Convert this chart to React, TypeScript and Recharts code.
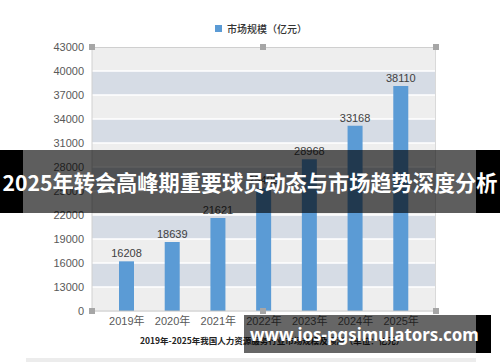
import { BarChart, Bar, XAxis, YAxis, CartesianGrid, LabelList, Legend } from "recharts";

const years = ["2019年", "2020年", "2021年", "2022年", "2023年", "2024年", "2025年"];
const marketSize = [16208, 18639, 21621, 25400, 28968, 33168, 38110];
const yTickLabels = [0, 13000, 16000, 19000, 22000, 25000, 28000, 31000, 34000, 37000, 40000, 43000];
const seriesName = "市场规模（亿元）";
const title = "2025年转会高峰期重要球员动态与市场趋势深度分析";
const caption = "2019年-2025年我国人力资源服务行业市场规模及预测（单位：亿元）";
const watermark = "www.ios-pgsimulators.com";

// broken axis: 0..13000 squeezed into one step, then 3000 per step
const toAxis = (v: number) => (v <= 13000 ? v / 13000 : 1 + (v - 13000) / 3000);

const data = years.map((year, i) => ({
  year,
  value: marketSize[i],
  pos: toAxis(marketSize[i]),
}));
const yTicks = yTickLabels.map(toAxis);

const FONT = "'Liberation Sans', 'Noto Sans CJK SC', sans-serif";
const CJK = "'Noto Sans CJK SC', sans-serif";

const handle = (left: number, top: number) => (
  <div
    key={`${left}-${top}`}
    style={{
      position: "absolute",
      left: left - 3,
      top: top - 3,
      width: 6,
      height: 6,
      background: "#a6a6a6",
    }}
  />
);

export default function App() {
  return (
    <div
      style={{
        position: "absolute",
        left: 0,
        top: 0,
        width: 500,
        height: 362,
        background: "#fff",
        overflow: "hidden",
        fontFamily: FONT,
      }}
    >
      <BarChart
        width={500}
        height={362}
        data={data}
        margin={{ top: 47, right: 64, bottom: 21, left: 0 }}
      >
        <CartesianGrid
          vertical={false}
          stroke="#ffffff"
          strokeWidth={1.5}
          horizontalFill={["#eeeeee", "#d6dce5"]}
          fillOpacity={1}
        />
        <Legend
          verticalAlign="top"
          wrapperStyle={{ top: 21, left: 0, width: 500, height: 0 }}
          content={() => (
            <div style={{ height: 0, overflow: "visible" }}>
              <div
                style={{
                  display: "flex",
                  alignItems: "center",
                  marginLeft: 215,
                  fontFamily: CJK,
                  fontSize: 10,
                  fontWeight: 500,
                  color: "#333",
                }}
              >
                <span
                  style={{
                    display: "inline-block",
                    width: 7,
                    height: 7,
                    background: "#5b9bd5",
                    marginRight: 5,
                  }}
                />
                {seriesName}
              </div>
            </div>
          )}
        />
        <XAxis
          dataKey="year"
          interval={0}
          padding={{ left: 12, right: 12 }}
          tickLine={false}
          tickSize={6}
          tickMargin={0}
          height={30}
          axisLine={{ stroke: "#bfbfbf" }}
          tick={{ fontSize: 11, fill: "#595959", fontFamily: FONT }}
        />
        <YAxis
          width={92}
          domain={[0, 11]}
          ticks={yTicks}
          interval={0}
          tickFormatter={(v: number) => String(yTickLabels[yTicks.indexOf(v)])}
          tickLine={false}
          axisLine={{ stroke: "#d0d0d0" }}
          tick={{ fontSize: 11, fill: "#595959", fontFamily: FONT }}
        />
        <Bar dataKey="pos" fill="#5b9bd5" barSize={15} isAnimationActive={false}>
          <LabelList
            dataKey="value"
            position="top"
            offset={4}
            fill="#404040"
            fontSize={11}
            fontFamily={FONT}
          />
        </Bar>
      </BarChart>

      {/* plot frame and selection handles */}
      <div
        style={{
          position: "absolute",
          left: 92,
          top: 47,
          width: 344,
          height: 264,
          borderTop: "1px solid #cfcfcf",
          borderRight: "1px solid #d9d9d9",
          boxSizing: "border-box",
          pointerEvents: "none",
        }}
      />
      {[handle(92, 47), handle(263, 47), handle(436, 47), handle(92, 311), handle(263, 311), handle(436, 311)]}

      <div
        style={{
          position: "absolute",
          left: 140,
          top: 334,
          fontFamily: CJK,
          fontSize: 8.5,
          fontWeight: 700,
          color: "#222",
          whiteSpace: "nowrap",
        }}
      >
        {caption}
      </div>
      <div
        style={{
          position: "absolute",
          left: 26,
          top: 358,
          width: 450,
          height: 4,
          background: "#ececec",
        }}
      />

      {/* title banner */}
      <div
        style={{
          position: "absolute",
          left: 0,
          top: 150,
          width: 500,
          height: 63,
          background: "rgba(0,0,0,0.63)",
        }}
      />
      <div style={{ position: "absolute", left: 0, top: 150, width: 23, height: 63, background: "#000" }} />
      <div style={{ position: "absolute", left: 476, top: 150, width: 24, height: 63, background: "#000" }} />
      <div
        style={{
          position: "absolute",
          left: 0,
          top: 150,
          width: 500,
          height: 63,
          display: "flex",
          alignItems: "center",
          justifyContent: "center",
          color: "#fff",
          fontFamily: CJK,
          fontWeight: 700,
          fontSize: 21.2,
          whiteSpace: "nowrap",
        }}
      >
        {title}
      </div>

      {/* watermark */}
      <div
        style={{
          position: "absolute",
          left: 244,
          top: 315,
          width: 232,
          height: 38,
          background: "rgba(0,0,0,0.6)",
        }}
      />
      <div style={{ position: "absolute", left: 476, top: 315, width: 15, height: 38, background: "#000" }} />
      <div
        style={{
          position: "absolute",
          left: 250,
          top: 315,
          height: 38,
          display: "flex",
          alignItems: "center",
          color: "#fff",
          fontFamily: "'Noto Sans', sans-serif",
          fontWeight: 700,
          fontSize: 16.9,
          whiteSpace: "nowrap",
        }}
      >
        {watermark}
      </div>
    </div>
  );
}
